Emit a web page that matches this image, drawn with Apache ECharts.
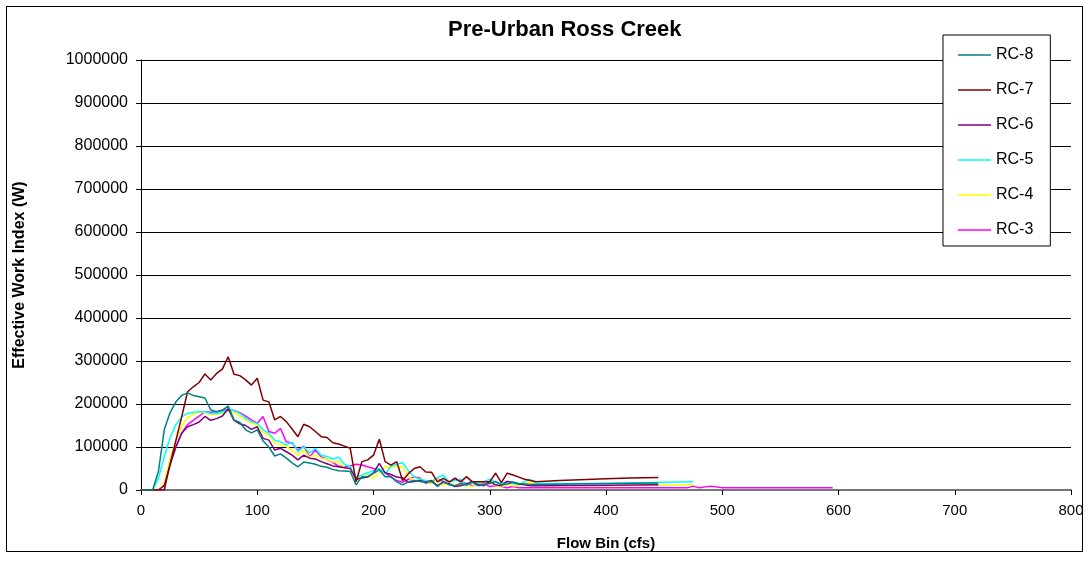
<!DOCTYPE html>
<html>
<head>
<meta charset="utf-8">
<script src="https://cdn.jsdelivr.net/npm/echarts@6/dist/echarts.min.js"></script>
<style>
html,body{margin:0;padding:0;background:#fff;}
#frame{position:absolute;left:6px;top:6px;width:1077px;height:546px;border:1px solid #000;box-sizing:border-box;}
#chart{position:absolute;left:0;top:0;width:1091px;height:561px;}
</style>
</head>
<body>
<div id="frame"></div>
<div id="chart"></div>
<script>
// Flow bins (cfs) shared by all series for the 0-340 range
const flowBins = [0,5,10,15,20,25,30,35,40,45,50,55,60,65,70,75,80,85,90,95,100,105,110,115,120,125,130,135,140,145,150,155,160,165,170,175,180,185,190,195,200,205,210,215,220,225,230,235,240,245,250,255,260,265,270,275,280,285,290,295,300,305,310,315,320,325,330,335,340];

const rc8 = [0,0,0,43000,140000,180000,205000,220000,226000,220000,217000,214000,186000,182000,186000,195000,163000,157000,140000,133000,140000,114000,100000,79000,84000,74000,63000,54000,65000,63000,60000,55000,53000,48000,45000,44000,43000,12000,31000,31000,39000,47000,31000,31000,19000,12000,19000,22000,20000,18000,20000,8000,20000,12000,10000,15000,12000,18000,10000,12000,15000,20000,12000,14000,18000,15000,14000,13000,13000];
const rc8TailX = [400,445];
const rc8TailY = [15000,16000];

const rc7 = [0,0,0,0,0,60000,115000,170000,228000,240000,250000,270000,256000,271000,281000,310000,269000,266000,256000,244000,260000,209000,205000,163000,171000,159000,142000,124000,153000,147000,136000,124000,122000,110000,107000,102000,97000,19000,66000,70000,81000,118000,66000,58000,66000,22000,38000,50000,54000,42000,41000,19000,27000,19000,27000,19000,31000,19000,19000,19000,19000,39000,17000,39000,35000,30000,25000,22000,19000];
const rc7TailX = [360,400,420,445];
const rc7TailY = [22000,26000,28000,29000];

const rc6 = [0,0,0,0,10000,58000,100000,132000,147000,152000,158000,171000,162000,166000,172000,189000,162000,154000,150000,141000,147000,120000,116000,93000,97000,89000,81000,70000,81000,74000,72000,66000,61000,56000,54000,52000,50000,25000,28000,30000,40000,62000,40000,36000,30000,28000,18000,20000,22000,18000,22000,10000,18000,14000,8000,10000,14000,20000,12000,10000,20000,12000,10000,20000,18000,14000,12000,10000,10000];
const rc6TailX = [400,445];
const rc6TailY = [11000,12000];

const rc5 = [0,0,0,27000,78000,122000,152000,170000,178000,181000,182000,182000,178000,178000,181000,188000,185000,178000,167000,159000,155000,140000,132000,116000,112000,105000,112000,89000,101000,86000,97000,81000,78000,72000,76000,60000,54000,28000,35000,40000,45000,50000,38000,55000,60000,64000,45000,30000,25000,22000,20000,28000,35000,18000,22000,25000,10000,20000,15000,20000,25000,18000,15000,20000,15000,12000,20000,25000,15000];
const rc5TailX = [400,450,475];
const rc5TailY = [15000,18000,19000];

const rc4 = [0,0,0,0,17000,72000,115000,148000,168000,176000,180000,181000,175000,176000,178000,184000,180000,172000,164000,155000,151000,132000,128000,109000,105000,101000,93000,81000,93000,77000,81000,74000,72000,65000,66000,52000,49000,30000,28000,35000,28000,40000,54000,54000,54000,54000,30000,22000,25000,18000,15000,25000,10000,20000,8000,12000,10000,8000,15000,18000,20000,10000,8000,12000,10000,10000,15000,18000,10000];
const rc4TailX = [400,475];
const rc4TailY = [10000,12000];

const rc3 = [0,0,0,0,12000,62000,100000,132000,152000,162000,172000,182000,181000,182000,185000,188000,185000,180000,172000,163000,155000,171000,136000,132000,143000,112000,109000,93000,102000,77000,93000,77000,72000,64000,55000,54000,56000,60000,58000,54000,50000,47000,40000,30000,22000,18000,25000,30000,28000,15000,20000,25000,20000,15000,28000,20000,15000,10000,12000,15000,8000,10000,8000,5000,8000,5000,5000,5000,5000];
const rc3TailX = [400,470,475,480,490,500,595];
const rc3TailY = [5000,5000,9000,5000,9000,5000,5000];

const seriesNames = ['RC-8','RC-7','RC-6','RC-5','RC-4','RC-3'];
const seriesColors = ['#008080','#800000','#800080','#00FFFF','#FFFF00','#FF00FF'];

function pairs(ys, tx, ty){
  const out = flowBins.map((x,i)=>[x, ys[i]]);
  tx.forEach((x,i)=>out.push([x, ty[i]]));
  return out;
}
const allData = [
  pairs(rc8, rc8TailX, rc8TailY),
  pairs(rc7, rc7TailX, rc7TailY),
  pairs(rc6, rc6TailX, rc6TailY),
  pairs(rc5, rc5TailX, rc5TailY),
  pairs(rc4, rc4TailX, rc4TailY),
  pairs(rc3, rc3TailX, rc3TailY)
];

const chart = echarts.init(document.getElementById('chart'), null, {renderer:'canvas'});
const FONT = '"Liberation Sans", Arial, sans-serif';
chart.setOption({
  animation:false,
  backgroundColor:'transparent',
  title:{
    text:'Pre-Urban Ross Creek',
    left:443, top:14,
    textStyle:{fontFamily:FONT, fontWeight:'bold', fontSize:22, color:'#000'}
  },
  legend:{
    orient:'vertical',
    left:943, top:35,
    width:107,
    padding:[12,17,8,15],
    backgroundColor:'#fff',
    borderColor:'#000', borderWidth:1,
    itemWidth:33, itemHeight:14, itemGap:19,
    icon:'path://M0,6 L33,6 L33,7.5 L0,7.5 Z',
    textStyle:{fontFamily:FONT, fontSize:16, color:'#000'},
    data:seriesNames
  },
  grid:{left:141, right:20, top:60, bottom:71, containLabel:false},
  xAxis:{
    type:'value', min:0, max:800, interval:100,
    name:'Flow Bin (cfs)', nameLocation:'middle', nameGap:46,
    nameTextStyle:{fontFamily:FONT, fontWeight:'bold', fontSize:15, color:'#000'},
    axisLine:{show:true, lineStyle:{color:'#777', width:2}},
    axisTick:{show:true, length:5, lineStyle:{color:'#000'}},
    axisLabel:{fontFamily:FONT, fontSize:15, color:'#000', margin:13},
    splitLine:{show:false}
  },
  yAxis:{
    type:'value', min:0, max:1000000, interval:100000,
    name:'Effective Work Index (W)', nameLocation:'middle', nameGap:113, nameRotate:90,
    nameTextStyle:{fontFamily:FONT, fontWeight:'bold', fontSize:16, color:'#000'},
    axisLine:{show:true, lineStyle:{color:'#000', width:1}},
    axisTick:{show:true, length:5, lineStyle:{color:'#000'}},
    axisLabel:{fontFamily:FONT, fontSize:16, color:'#000', margin:13, formatter:(v)=>String(v)},
    splitLine:{show:true, lineStyle:{color:'#000', width:1}}
  },
  series: seriesNames.map((n,i)=>({
    name:n, type:'line', data:allData[i],
    showSymbol:false, symbol:'none',
    lineStyle:{color:seriesColors[i], width:1.5},
    itemStyle:{color:seriesColors[i]},
    z: 10 - i
  }))
});
</script>
</body>
</html>
